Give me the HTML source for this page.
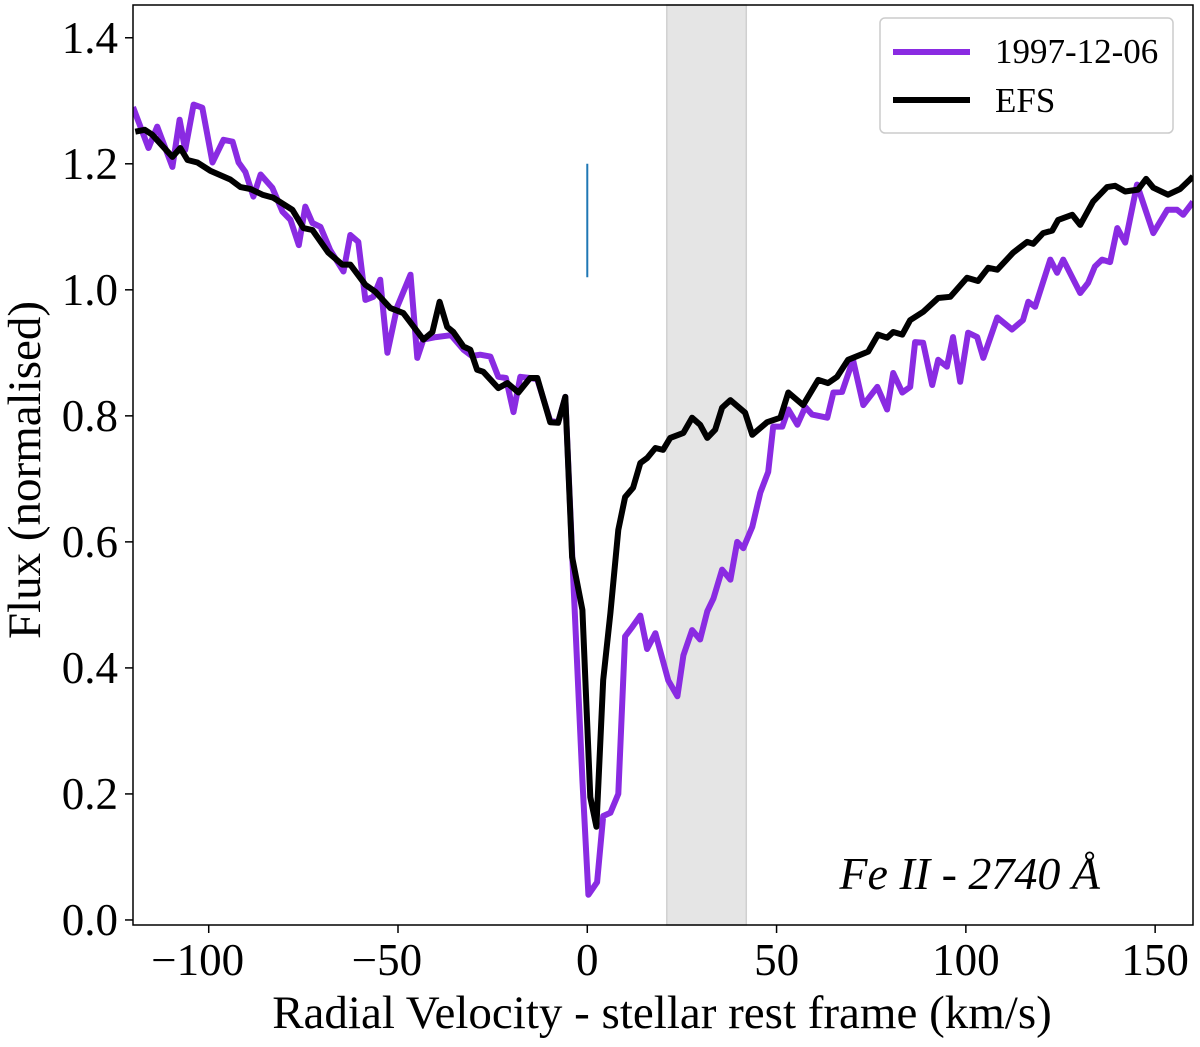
<!DOCTYPE html>
<html><head><meta charset="utf-8"><style>
body{margin:0;background:#fff;position:relative}
text{font-family:"Liberation Serif","DejaVu Serif",serif;fill:#000}
</style></head><body>
<svg id="chart" width="1200" height="1042" viewBox="0 0 1200 1042" xmlns="http://www.w3.org/2000/svg"></svg>
<script>
const xTicks=[-100,-50,0,50,100,150];
const xTickLabels=["\u2212100","\u221250","0","50","100","150"];
const yTicks=[0,0.2,0.4,0.6,0.8,1.0,1.2,1.4];
const yTickLabels=["0.0","0.2","0.4","0.6","0.8","1.0","1.2","1.4"];
const bandRange=[21,42];
const markerLine=[0,1.02,1.2];
const efsV=[-119.4,-116.9,-114.9,-109.6,-107.5,-105.6,-103,-99.6,-94.3,-91.6,-89,-85.8,-82.9,-77.9,-75,-72.6,-68.4,-64.7,-62.6,-58.6,-56,-52,-48.6,-43.3,-40.9,-39,-37,-35.4,-32.7,-30.9,-29.1,-27.5,-23.5,-21.1,-18.2,-15.1,-13.2,-9.8,-7.7,-5.8,-4.0,-1.3,0.8,2.4,4.2,6.1,8.2,10,12.1,14,15.8,18,20,21.9,25.4,27.7,29.8,31.7,33.8,35.6,37.8,41.7,43.6,47.5,51,53.1,57,61,63.6,66,68.9,74.2,76.8,79.2,80.8,83.2,85.3,88.7,92.7,95.9,100.3,103.2,105.9,108.3,112.5,116.2,117.8,120.4,122.8,124.4,128.1,130.2,133.6,137.3,139.4,142.1,145.5,147.6,149.5,153.4,156.6,159.2,160];
const efsF=[1.251,1.254,1.246,1.211,1.225,1.206,1.202,1.189,1.175,1.163,1.160,1.151,1.146,1.127,1.098,1.095,1.059,1.040,1.040,1.008,0.997,0.971,0.963,0.921,0.933,0.981,0.941,0.933,0.910,0.905,0.873,0.870,0.844,0.852,0.837,0.860,0.860,0.790,0.789,0.830,0.576,0.492,0.195,0.148,0.381,0.487,0.619,0.671,0.686,0.725,0.733,0.749,0.746,0.765,0.773,0.797,0.786,0.765,0.778,0.813,0.825,0.805,0.770,0.790,0.797,0.837,0.817,0.857,0.852,0.862,0.889,0.902,0.929,0.924,0.933,0.929,0.952,0.965,0.987,0.989,1.019,1.014,1.035,1.032,1.059,1.076,1.073,1.090,1.094,1.111,1.119,1.103,1.140,1.163,1.165,1.156,1.159,1.176,1.162,1.151,1.160,1.175,1.18];
const obsV=[-120,-115.9,-113.6,-109.6,-107.7,-106.2,-104,-101.7,-99,-96.1,-93.7,-92.1,-90.3,-88.2,-86.3,-83.2,-80.5,-78.4,-76.2,-74.5,-72.6,-70.5,-67.9,-64.4,-62.6,-60.5,-58.6,-56.5,-54.7,-52.8,-50.2,-46.7,-44.9,-43.3,-40,-36,-32.7,-30.5,-28.3,-25.6,-23.5,-21.5,-19.5,-17.7,-15.1,-13.2,-9.8,-7.7,-5.8,-3.7,-1.3,0.3,2.6,4.2,6.1,8.2,10,11.9,14,15.8,18,21.4,23.8,25.4,27.7,29.8,31.7,33.3,35.6,37.8,39.6,41.2,43.6,45.7,47.8,49.1,51.5,53.1,55.5,57.6,59.4,63.4,65,67.3,70.2,72.9,76.6,79.2,80.8,83.2,85.3,86.6,88.7,91.1,92.7,95,96.6,98.5,100.6,103,104.6,108.3,112.2,115.1,116.5,118.3,122.3,124.1,125.7,130.2,132.3,134.1,136,138.1,140,142.1,145.2,149.5,153.2,155.8,157.4,159.8,160];
const obsF=[1.29,1.225,1.259,1.195,1.270,1.222,1.294,1.289,1.202,1.238,1.235,1.202,1.187,1.148,1.183,1.162,1.124,1.111,1.071,1.132,1.106,1.100,1.063,1.029,1.087,1.076,0.984,0.989,1.016,0.900,0.973,1.024,0.892,0.921,0.925,0.928,0.905,0.895,0.897,0.894,0.862,0.860,0.806,0.862,0.860,0.858,0.792,0.790,0.830,0.540,0.222,0.040,0.060,0.165,0.170,0.200,0.450,0.465,0.483,0.430,0.455,0.380,0.355,0.420,0.460,0.445,0.490,0.510,0.556,0.540,0.600,0.590,0.624,0.678,0.711,0.783,0.783,0.810,0.786,0.814,0.802,0.797,0.837,0.838,0.889,0.817,0.846,0.810,0.868,0.837,0.846,0.917,0.916,0.849,0.889,0.878,0.925,0.854,0.932,0.925,0.892,0.956,0.937,0.952,0.981,0.973,1.048,1.027,1.048,0.995,1.011,1.037,1.048,1.044,1.098,1.075,1.167,1.090,1.127,1.127,1.119,1.138,1.14];

const L=133,R=1193,T=5,B=925,xmin=-120,xmax=160,ymin=-0.008,ymax=1.452;
const xs=v=>L+(v-xmin)/(xmax-xmin)*(R-L);
const ys=f=>B-(f-ymin)/(ymax-ymin)*(B-T);
const svg=document.getElementById('chart');
const NS='http://www.w3.org/2000/svg';
function mk(tag,attrs,parent){const e=document.createElementNS(NS,tag);for(const k in attrs)e.setAttribute(k,attrs[k]);(parent||svg).appendChild(e);return e;}

const band=mk('rect',{x:xs(bandRange[0]),y:T,width:xs(bandRange[1])-xs(bandRange[0]),height:B-T,fill:'#e5e5e5',stroke:'#d0d0d0','stroke-width':1.5});



const mline=mk('line',{x1:xs(markerLine[0]),x2:xs(markerLine[0]),y1:ys(markerLine[1]),y2:ys(markerLine[2]),stroke:'#1f77b4','stroke-width':2});



function pathFrom(V,F){return V.map((v,i)=>(i?'L':'M')+xs(v).toFixed(1)+','+ys(F[i]).toFixed(1)).join('');}
const clip=mk('clipPath',{id:'pc'});mk('rect',{x:L,y:T,width:R-L,height:B-T},clip);
const p1=mk('path',{d:pathFrom(obsV,obsF),fill:'none',stroke:'#8a2be2','stroke-width':6,'stroke-linejoin':'round','clip-path':'url(#pc)'});


const p2=mk('path',{d:pathFrom(efsV,efsF),fill:'none',stroke:'#000','stroke-width':6,'stroke-linejoin':'round','clip-path':'url(#pc)'});



const frame=mk('rect',{x:L,y:T,width:R-L,height:B-T,fill:'none',stroke:'#000','stroke-width':1.5});



xTicks.forEach((v,i)=>{
  const t=mk('line',{x1:xs(v),x2:xs(v),y1:B,y2:B+8,stroke:'#000','stroke-width':1.5});
  
  
  const lb=mk('text',{x:xs(v)-(xTickLabels[i].startsWith('\u2212')?11:0),y:975,'text-anchor':'middle','font-size':45});
  lb.textContent=xTickLabels[i];
  
  
});
yTicks.forEach((f,i)=>{
  const t=mk('line',{x1:L-8,x2:L,y1:ys(f),y2:ys(f),stroke:'#000','stroke-width':1.5});
  
  
  const lb=mk('text',{x:118,y:ys(f)+15,'text-anchor':'end','font-size':45});
  lb.textContent=yTickLabels[i];
  
  
});
</script>
<svg style="position:absolute;left:0;top:0" width="1200" height="1042">
<text x="662" y="1028" text-anchor="middle" font-size="47">Radial Velocity - stellar rest frame (km/s)</text>
<text transform="translate(40,470) rotate(-90)" text-anchor="middle" font-size="47">Flux (normalised)</text>
<text x="1100" y="889" text-anchor="end" font-size="46" font-style="italic">Fe II - 2740 Å</text>
<g>
<rect x="880" y="18" width="293" height="115" rx="5" fill="#fff" fill-opacity="0.8" stroke="#ccc" stroke-width="1.5"/>
<line x1="893" x2="970" y1="52" y2="52" stroke="#8a2be2" stroke-width="6"/>
<text x="995" y="63" font-size="35">1997-12-06</text>
<line x1="893" x2="970" y1="100" y2="100" stroke="#000" stroke-width="6"/>
<text x="995" y="112" font-size="35">EFS</text>
</g>
</svg>
</body></html>
